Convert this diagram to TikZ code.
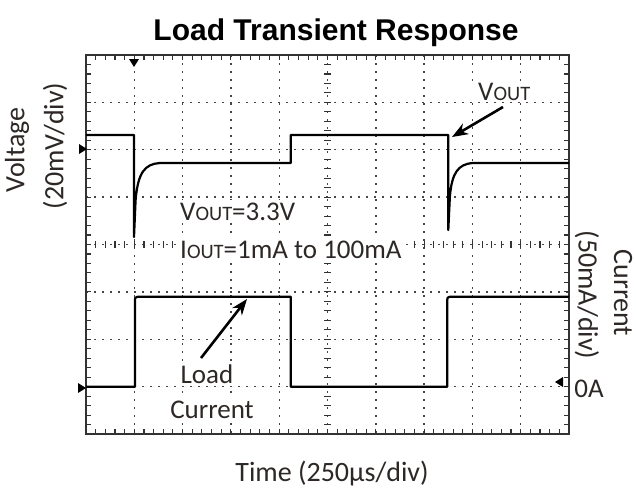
\documentclass[tikz,border=0pt]{standalone}
\usepackage{fontspec}
\setmainfont{Carlito}
\newfontfamily\titlefont{Liberation Sans}
\usetikzlibrary{arrows.meta}
\definecolor{txt}{RGB}{45,40,38}
\definecolor{gridc}{RGB}{70,70,70}
\definecolor{framec}{RGB}{50,50,50}
\newcommand{\smcp}[1]{{\fontsize{20.5}{20.5}\selectfont #1}}
\tikzset{
  lbl/.style={font=\fontsize{27}{27}\selectfont, text=txt, inner sep=0pt},
  boxlbl/.style={lbl, fill=white, inner xsep=4pt, inner ysep=2pt},
  axlbl/.style={font=\fontsize{28}{28}\selectfont, text=txt, inner sep=0pt},
  gridline/.style={gridc, line width=1.4pt, dash pattern=on 1.5pt off 6.5pt},
  tickline/.style={framec, line width=1.1pt},
  frameline/.style={framec, line width=2.2pt},
  trace/.style={black, line width=2.2pt, line join=round},
  pointer/.style={black, line width=2.6pt, -{Stealth[length=16pt,width=12pt,inset=5pt]}},
  marker/.style={fill=black, draw=none}
}
\begin{document}
\begin{tikzpicture}[x=1pt,y=-1pt]
\useasboundingbox (0,0) rectangle (636,490);
\fill[white] (0,0) rectangle (636,490);
% grid
\foreach \i in {1,...,9} \draw[gridline] (86+\i*48.3,55) -- (86+\i*48.3,434);
\foreach \j in {1,...,7} \draw[gridline] (86,55+\j*47.375) -- (569,55+\j*47.375);
% frame ticks
\foreach \k in {1,...,49} {
  \draw[tickline] (86+\k*9.66,55) -- ++(0,5);
  \draw[tickline] (86+\k*9.66,434) -- ++(0,-5);
  \draw[tickline] (86+\k*9.66,241) -- ++(0,7);
}
\foreach \k in {1,...,39} {
  \draw[tickline] (86,55+\k*9.475) -- ++(5,0);
  \draw[tickline] (569,55+\k*9.475) -- ++(-5,0);
  \draw[tickline] (324,55+\k*9.475) -- ++(7,0);
}
% inner labels (opaque, drawn over the grid)
\node[boxlbl, anchor=base west, inner xsep=8pt] (vout) at (470,100) {V\smcp{OUT}};
\node[boxlbl, anchor=base west] (vset) at (176,220) {V\smcp{OUT}=3.3V};
\node[boxlbl, anchor=base west] (iset) at (176,258) {I\smcp{OUT}=1mA to 100mA};
\node[boxlbl, anchor=base] (load) at (207,383) {Load};
\node[boxlbl, anchor=base] (curr) at (212,418) {Current};
\draw[frameline] (86,55) rectangle (569,434);
% markers
\fill[marker] (129,59) -- (139,59) -- (134,67) -- cycle;
\fill[marker] (79,144) -- (79,154) -- (87,149) -- cycle;
\fill[marker] (78,383) -- (78,393) -- (86,388) -- cycle;
\fill[marker] (563,377) -- (563,387) -- (555,382) -- cycle;
% voltage trace
\draw[trace] (86,135) -- (134,135) -- (134,237) -- (135.6,200)
  .. controls (138,172) and (145,164) .. (160,163) -- (290.7,163) -- (290.7,135)
  -- (448.3,135) -- (448.3,230) -- (449.9,196)
  .. controls (452,173) and (458,164) .. (473,163) -- (569,163);
% current trace
\draw[trace] (86,386.7) -- (135,386.7) -- (135,299.5)
  .. controls (135,297.5) .. (138,296.7) -- (290.7,296.7) -- (290.7,386.7)
  -- (447.3,386.7) -- (447.3,299.5) .. controls (447.3,297.5) .. (450,296.7) -- (569,296.7);
% title
\node[font=\titlefont\bfseries\fontsize{30}{30}\selectfont, inner sep=0pt, anchor=base] (title) at (336,40) {Load Transient Response};
% axis labels
\node[axlbl, rotate=90] (vlab) at (17,150) {Voltage};
\node[axlbl, rotate=90] (vdiv) at (55,146) {(20mV/div)};
\node[axlbl, rotate=-90] (ilab) at (623,293) {Current};
\node[axlbl, rotate=-90] (idiv) at (587,295) {(50mA/div)};
\node[lbl, anchor=base] (zero) at (589,397) {0A};
\node[axlbl, anchor=base] (time) at (332,481) {Time (250µs/div)};
% pointers
\coordinate (vtail) at (503,107);
\coordinate (vtip) at (452,137);
\draw[pointer] (vtail) -- (vtip);
\coordinate (ltail) at (201,358);
\coordinate (ltip) at (247,299);
\draw[pointer] (ltail) -- (ltip);
\end{tikzpicture}
\end{document}
